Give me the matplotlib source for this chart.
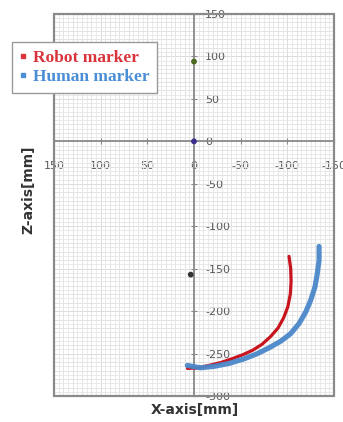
import numpy as np
import matplotlib.pyplot as plt
from matplotlib.patches import Rectangle
from matplotlib.lines import Line2D

# marker trajectories in the X-Z plane [mm]
robot_x = [-101.8, -103.6, -104.0, -103.2, -100.5, -96.0, -90.0, -82.0, -73.0,
           -63.0, -52.0, -41.0, -29.0, -16.0, -3.0, 7.0]
robot_z = [-135.5, -150.0, -165.0, -180.0, -195.0, -208.0, -220.0, -230.0, -239.0,
           -246.0, -251.5, -256.0, -260.5, -264.0, -267.0, -267.5]
human_x = [-134.0, -134.0, -132.1, -129.6, -125.0, -119.7, -112.5, -103.6, -92.9,
           -80.0, -67.0, -53.0, -38.0, -22.0, -7.0, 7.2]
human_z = [-123.8, -140.2, -155.9, -171.6, -187.3, -201.1, -214.7, -226.5, -235.5,
           -243.5, -250.5, -256.5, -261.5, -265.0, -266.8, -264.0]

# single reference points
pt_x = [0, 0, 3.5]
pt_z = [94, 0, -157]
pt_col = ['#4b6a1f', '#3b2f8f', '#333333']

xticks = [150, 100, 50, 0, -50, -100, -150]
zticks = [150, 100, 50, 0, -50, -100, -150, -200, -250, -300]

fig = plt.figure(figsize=(3.43, 4.22), dpi=100)
ax = fig.add_axes([54/343, 26/422, 280/343, 382/422])

ax.set_xlim(150, -150)
ax.set_ylim(-300, 150)

# grid
ax.set_xticks(np.arange(-150, 151, 5), minor=True)
ax.set_yticks(np.arange(-300, 151, 5), minor=True)
ax.grid(which='minor', color='#e6e6e6', lw=0.6)
for v in np.arange(-150, 151, 10):
    ax.axvline(v, color='#d6d6d6', lw=0.6, zorder=0.5)
for v in np.arange(-300, 151, 10):
    ax.axhline(v, color='#d6d6d6', lw=0.6, zorder=0.5)

# axes crossing at the origin
ax.spines['bottom'].set_position(('data', 0))
ax.spines['right'].set_position(('data', 0))
ax.spines['left'].set_visible(False)
ax.spines['top'].set_visible(False)
for s in ['bottom', 'right']:
    ax.spines[s].set_color('#8a8a8a')
    ax.spines[s].set_linewidth(1.3)
ax.add_patch(Rectangle((0, 0), 1, 1, transform=ax.transAxes, fill=False,
                       edgecolor='#8a8a8a', lw=1.6, zorder=3, clip_on=False))

ax.yaxis.tick_right()
ax.set_xticks(xticks)
ax.set_yticks(zticks)
ax.set_xticklabels([str(t) for t in xticks])
ax.set_yticklabels([str(t) for t in zticks])
ax.tick_params(which='major', direction='inout', length=4, color='#8a8a8a',
               labelsize=8, labelcolor='#5a5a5a')
ax.tick_params(axis='x', which='major', pad=12)
ax.tick_params(axis='y', which='major', pad=6)
ax.tick_params(which='minor', length=0)
for lab in ax.get_xticklabels() + ax.get_yticklabels():
    lab.set_clip_on(False)

ax.plot(robot_x, robot_z, color='#c8141e', lw=2.3, solid_capstyle='round',
        solid_joinstyle='round', zorder=4)
ax.plot(human_x, human_z, color='#4a87c9', lw=3.7, solid_capstyle='round',
        solid_joinstyle='round', zorder=4, alpha=0.95)
ax.scatter(pt_x, pt_z, c=pt_col, s=10, zorder=5)

fig.text(195/343, 1 - 410/422, 'X-axis[mm]', ha='center', va='center',
         fontsize=10, fontweight='bold', color='#333333')
fig.text(28/343, 1 - 190/422, 'Z-axis[mm]', ha='center', va='center',
         rotation=90, fontsize=10, fontweight='bold', color='#333333')

handles = [Line2D([], [], ls='none', marker='s', ms=2.5, color='#d9343c'),
           Line2D([], [], ls='none', marker='s', ms=2.5, color='#4a8fd6')]
leg = fig.legend(handles, ['Robot marker', 'Human marker'],
                 loc='upper left', bbox_to_anchor=(12/343, 1 - 42/422),
                 prop={'family': 'Liberation Serif', 'size': 12.5, 'weight': 'bold'},
                 frameon=True, fancybox=False, edgecolor='#9a9a9a', framealpha=1,
                 handlelength=0.4, handletextpad=0.35, borderpad=0.45,
                 labelspacing=0.15, borderaxespad=0)
leg.get_frame().set_linewidth(1.0)
for t, c in zip(leg.get_texts(), ['#d9343c', '#4a8fd6']):
    t.set_color(c)

fig.savefig('out.png', dpi=100)
